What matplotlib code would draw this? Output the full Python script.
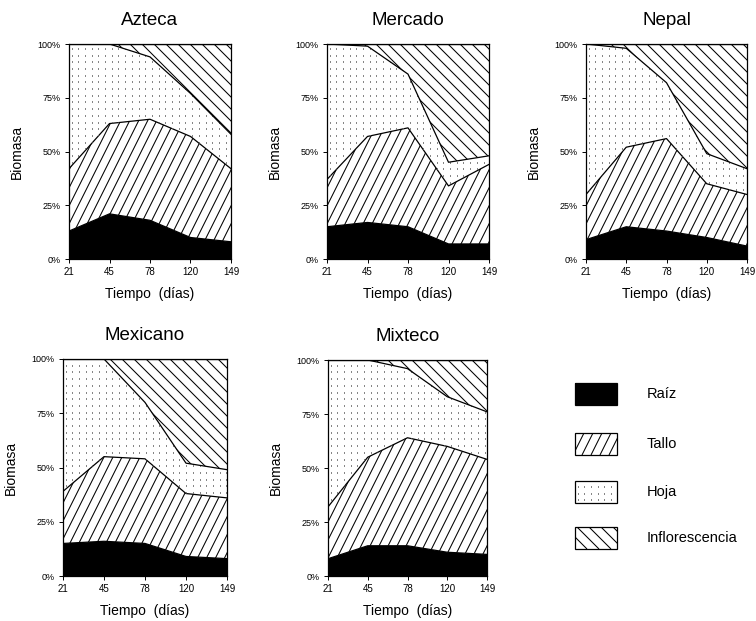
import matplotlib
matplotlib.use("Agg")
import matplotlib.pyplot as plt
from matplotlib.patches import Rectangle
from matplotlib.collections import LineCollection
from matplotlib.transforms import IdentityTransform
import numpy as np

plt.rcParams['font.family'] = ['Liberation Sans', 'DejaVu Sans']

dias = ["21", "45", "78", "120", "149"]
componentes = ["Raíz", "Tallo", "Hoja", "Inflorescencia"]
y_ticks = [0, 25, 50, 75, 100]
y_labels = ["0%", "25%", "50%", "75%", "100%"]

# percent of biomass in each organ
azteca_raiz = [13, 21, 18, 10, 8]
azteca_tallo = [29, 42, 47, 47, 34]
azteca_hoja = [58, 37, 29, 20, 16]
azteca_inflo = [0, 0, 6, 23, 42]

mercado_raiz = [15, 17, 15, 7, 7]
mercado_tallo = [22, 40, 46, 27, 37]
mercado_hoja = [63, 42, 25, 11, 4]
mercado_inflo = [0, 1, 14, 55, 52]

nepal_raiz = [9, 15, 13, 10, 6]
nepal_tallo = [21, 37, 43, 25, 24]
nepal_hoja = [70, 46, 26, 14, 12]
nepal_inflo = [0, 2, 18, 51, 58]

mexicano_raiz = [15, 16, 15, 9, 8]
mexicano_tallo = [24, 39, 39, 29, 28]
mexicano_hoja = [61, 45, 26, 14, 13]
mexicano_inflo = [0, 0, 20, 48, 51]

mixteco_raiz = [8, 14, 14, 11, 10]
mixteco_tallo = [24, 41, 50, 49, 44]
mixteco_hoja = [68, 45, 32, 23, 22]
mixteco_inflo = [0, 0, 4, 17, 24]

paneles = [
    ("Azteca", [azteca_raiz, azteca_tallo, azteca_hoja, azteca_inflo], (69, 44, 231, 259)),
    ("Mercado", [mercado_raiz, mercado_tallo, mercado_hoja, mercado_inflo], (327, 44, 489, 259)),
    ("Nepal", [nepal_raiz, nepal_tallo, nepal_hoja, nepal_inflo], (586, 44, 747, 259)),
    ("Mexicano", [mexicano_raiz, mexicano_tallo, mexicano_hoja, mexicano_inflo], (63, 359, 227, 576)),
    ("Mixteco", [mixteco_raiz, mixteco_tallo, mixteco_hoja, mixteco_inflo], (328, 360, 487, 576)),
]

W, H = 756, 621
fig = plt.figure(figsize=(W / 100, H / 100), dpi=100)
IDT = IdentityTransform()


def hatch_artists(kind, bx0, by0, bx1, by1):
    """Return decorative hatch artists in display pixels for a bbox."""
    h = by1 - by0
    arts = []
    if kind == "tallo":
        step, slope = 9.0, 0.5
        xs = np.arange(bx0 - slope * h - step, bx1 + step, step)
        segs = [[(x, by0), (x + slope * h, by1)] for x in xs]
        arts.append(LineCollection(segs, colors="black", linewidths=0.75,
                                   transform=IDT))
    elif kind == "inflo":
        step = 12.0
        xs = np.arange(bx0 - step, bx1 + h + step, step)
        segs = [[(x, by0), (x - h, by1)] for x in xs]
        arts.append(LineCollection(segs, colors="black", linewidths=0.75,
                                   transform=IDT))
    elif kind == "hoja":
        step = 6.7
        gx = np.floor(np.arange(bx0 + 3, bx1, step)) + 0.5
        gy = np.floor(np.arange(by0 + 3, by1, step)) + 0.5
        X, Y = np.meshgrid(gx, gy)
        segs = [[(x - 0.6, y), (x + 0.6, y)] for x, y in zip(X.ravel(), Y.ravel())]
        arts.append(LineCollection(segs, colors="#6e6e6e", linewidths=1.2,
                                   transform=IDT))
    return arts


kinds = ["raiz", "tallo", "hoja", "inflo"]

for nombre, series, (x0, y0, x1, y1) in paneles:
    ax = fig.add_axes([x0 / W, 1 - y1 / H, (x1 - x0) / W, (y1 - y0) / H])
    x = np.arange(len(dias))
    ax.set_xlim(0, len(dias) - 1)
    ax.set_ylim(0, 100)
    bx0, by0, bx1, by1 = x0, H - y1, x1, H - y0
    base = np.zeros(len(dias))
    for vals, kind in zip(series, kinds):
        top = base + np.array(vals, dtype=float)
        fc = "black" if kind == "raiz" else "white"
        poly = ax.fill_between(x, base, top, facecolor=fc, edgecolor="none",
                               linewidth=0)
        path = poly.get_paths()[0]
        for art in hatch_artists(kind, bx0, by0, bx1, by1):
            art.set_clip_path(path, ax.transData)
            ax.add_artist(art)
        ax.plot(x, top, color="black", lw=0.9)
        base = top
    ax.set_xticks(x)
    ax.set_xticklabels(dias, fontsize=7)
    ax.set_yticks(y_ticks)
    ax.set_yticklabels(y_labels, fontsize=6.5)
    ax.tick_params(length=3, width=0.7, pad=3)
    for s in ax.spines.values():
        s.set_linewidth(0.9)
        s.set_zorder(5)
    ax.set_title(nombre, fontsize=13.5, pad=14)
    ax.set_xlabel("Tiempo  (días)", fontsize=10, labelpad=7)
    ax.set_ylabel("Biomasa", fontsize=10, labelpad=10)

# legend
filas = [394, 444, 492, 538]
for comp, kind, yc in zip(componentes, kinds, filas):
    rx0, ry0 = 575, H - (yc + 11)
    fc = "black" if kind == "raiz" else "white"
    bg = Rectangle((rx0, ry0), 42, 22, transform=IDT, facecolor=fc,
                   edgecolor="none", linewidth=0)
    fig.add_artist(bg)
    for art in hatch_artists(kind, rx0, ry0, rx0 + 42, ry0 + 22):
        art.set_clip_path(bg)
        fig.add_artist(art)
    fig.add_artist(Rectangle((rx0, ry0), 42, 22, transform=IDT, fill=False,
                             edgecolor="black", linewidth=0.9))
    fig.text(647 / W, 1 - yc / H, comp, fontsize=10.5, va="center", ha="left")

fig.savefig("out.png", dpi=100)
